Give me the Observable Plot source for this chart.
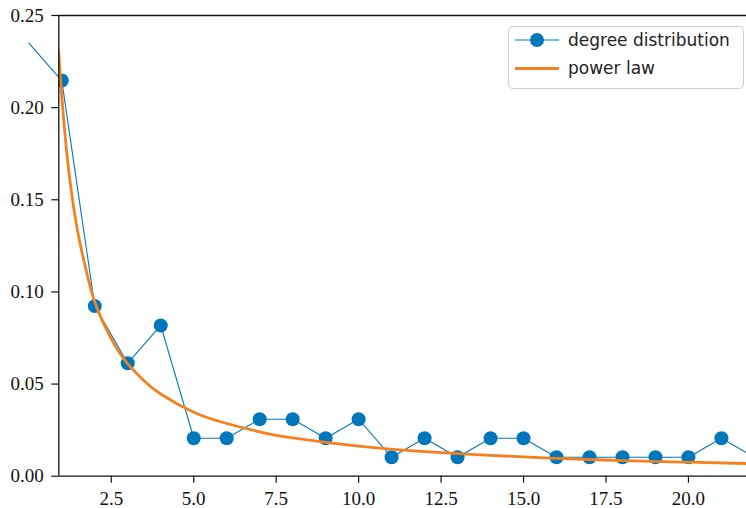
<!DOCTYPE html>
<html>
<head>
<meta charset="utf-8">
<script src="https://cdn.jsdelivr.net/npm/d3@7"></script>
<script src="https://cdn.jsdelivr.net/npm/@observablehq/plot@0.6"></script>
<style>
  html, body { margin: 0; padding: 0; background: #fff; }
  #wrap { position: relative; width: 746px; height: 508px; overflow: hidden; }
  #legend { position: absolute; left: 0; top: 0; }
  svg.mainchart text { font-family: "Liberation Serif", "DejaVu Serif", serif !important; font-size: 19px !important; }
  svg.mainchart g[aria-label="x-axis tick label"] text, svg.mainchart g[aria-label="y-axis tick label"] text { font-variant-numeric: normal; }
</style>
</head>
<body>
<div id="wrap"></div>
<script>
// degree distribution
const degreeK = [0, 1, 2, 3, 4, 5, 6, 7, 8, 9, 10, 11, 12, 13, 14, 15, 16, 17, 18, 19, 20, 21, 22];
const degreeP = [0.235, 0.2147, 0.0923, 0.0613, 0.0818, 0.0206, 0.0206, 0.0309, 0.0309, 0.0206, 0.0309,
                 0.0103, 0.0206, 0.0103, 0.0206, 0.0206, 0.0103, 0.0103, 0.0103, 0.0103, 0.0103, 0.0206, 0.0103];

// fitted power law curve
const powerX = [0.9, 1, 1.1, 1.25, 1.5, 1.75, 2, 2.5, 3, 3.5, 4, 5, 6, 7, 8, 10, 12, 14, 16, 18, 20, 22];
const powerY = [0.231, 0.206, 0.185, 0.160, 0.131, 0.111, 0.0945, 0.0745, 0.061, 0.0517, 0.0446, 0.0347,
                0.0286, 0.0241, 0.0208, 0.0163, 0.0133, 0.0113, 0.0097, 0.0085, 0.0076, 0.0068];

const xTicks = [2.5, 5.0, 7.5, 10.0, 12.5, 15.0, 17.5, 20.0];
const yTicks = [0.00, 0.05, 0.10, 0.15, 0.20, 0.25];
const xDomain = [0.909, 21.76];
const yDomain = [0, 0.25];

const seriesNames = ["degree distribution", "power law"];
const blue = "#0077BB";
const orange = "#F5801F";

const degree = degreeK.map((k, i) => ({k, p: degreeP[i]}));
const power = powerX.map((x, i) => ({x, y: powerY[i]}));

const chart = Plot.plot({
  width: 746,
  height: 508,
  marginLeft: 58.3,
  marginRight: 0,
  marginTop: 15,
  marginBottom: 32.3,
  style: {fontFamily: "Liberation Serif, DejaVu Serif, serif", fontSize: "19px", color: "#111", background: "white", overflow: "hidden"},
  x: {domain: xDomain},
  y: {domain: yDomain},
  marks: [
    Plot.line(degree, {x: "k", y: "p", stroke: blue, strokeWidth: 1.1}),
    Plot.dot(degree.filter(d => d.k >= 1), {x: "k", y: "p", r: 7, fill: blue, stroke: "none", clip: true}),
    Plot.line(power, {x: "x", y: "y", stroke: orange, strokeWidth: 2.8, curve: "natural", clip: true}),
    Plot.ruleX([xDomain[0]], {stroke: "#111", strokeWidth: 1.3}),
    Plot.ruleY([yDomain[0]], {stroke: "#111", strokeWidth: 1.3}),
    Plot.ruleY([yDomain[1]], {stroke: "#111", strokeWidth: 1.3}),
    Plot.axisX(xTicks, {tickFormat: d3.format(".1f"), tickSize: 7, tickPadding: 8, label: null, strokeWidth: 1.2}),
    Plot.axisY(yTicks, {tickFormat: d3.format(".2f"), tickSize: 7, tickPadding: 8, label: null, strokeWidth: 1.2})
  ]
});
chart.classList.add("mainchart");

const wrap = document.getElementById("wrap");
wrap.appendChild(chart);

// legend overlay
const ns = "http://www.w3.org/2000/svg";
const lg = document.createElementNS(ns, "svg");
lg.setAttribute("id", "legend");
lg.setAttribute("width", 746);
lg.setAttribute("height", 508);
lg.innerHTML = `
  <rect x="508.5" y="26.5" width="235" height="62" rx="4" ry="4" fill="rgba(255,255,255,0.85)" stroke="#cccccc" stroke-width="1"/>
  <line x1="515" x2="559" y1="40" y2="40" stroke="${blue}" stroke-width="1.1"/>
  <circle cx="537" cy="40" r="7" fill="${blue}"/>
  <text x="568" y="46" font-family="'DejaVu Sans', sans-serif" font-size="17" fill="#222">${seriesNames[0]}</text>
  <line x1="515" x2="559" y1="68.5" y2="68.5" stroke="${orange}" stroke-width="2.8"/>
  <text x="568" y="74" font-family="'DejaVu Sans', sans-serif" font-size="17" fill="#222">${seriesNames[1]}</text>
`;
wrap.appendChild(lg);
</script>
</body>
</html>
